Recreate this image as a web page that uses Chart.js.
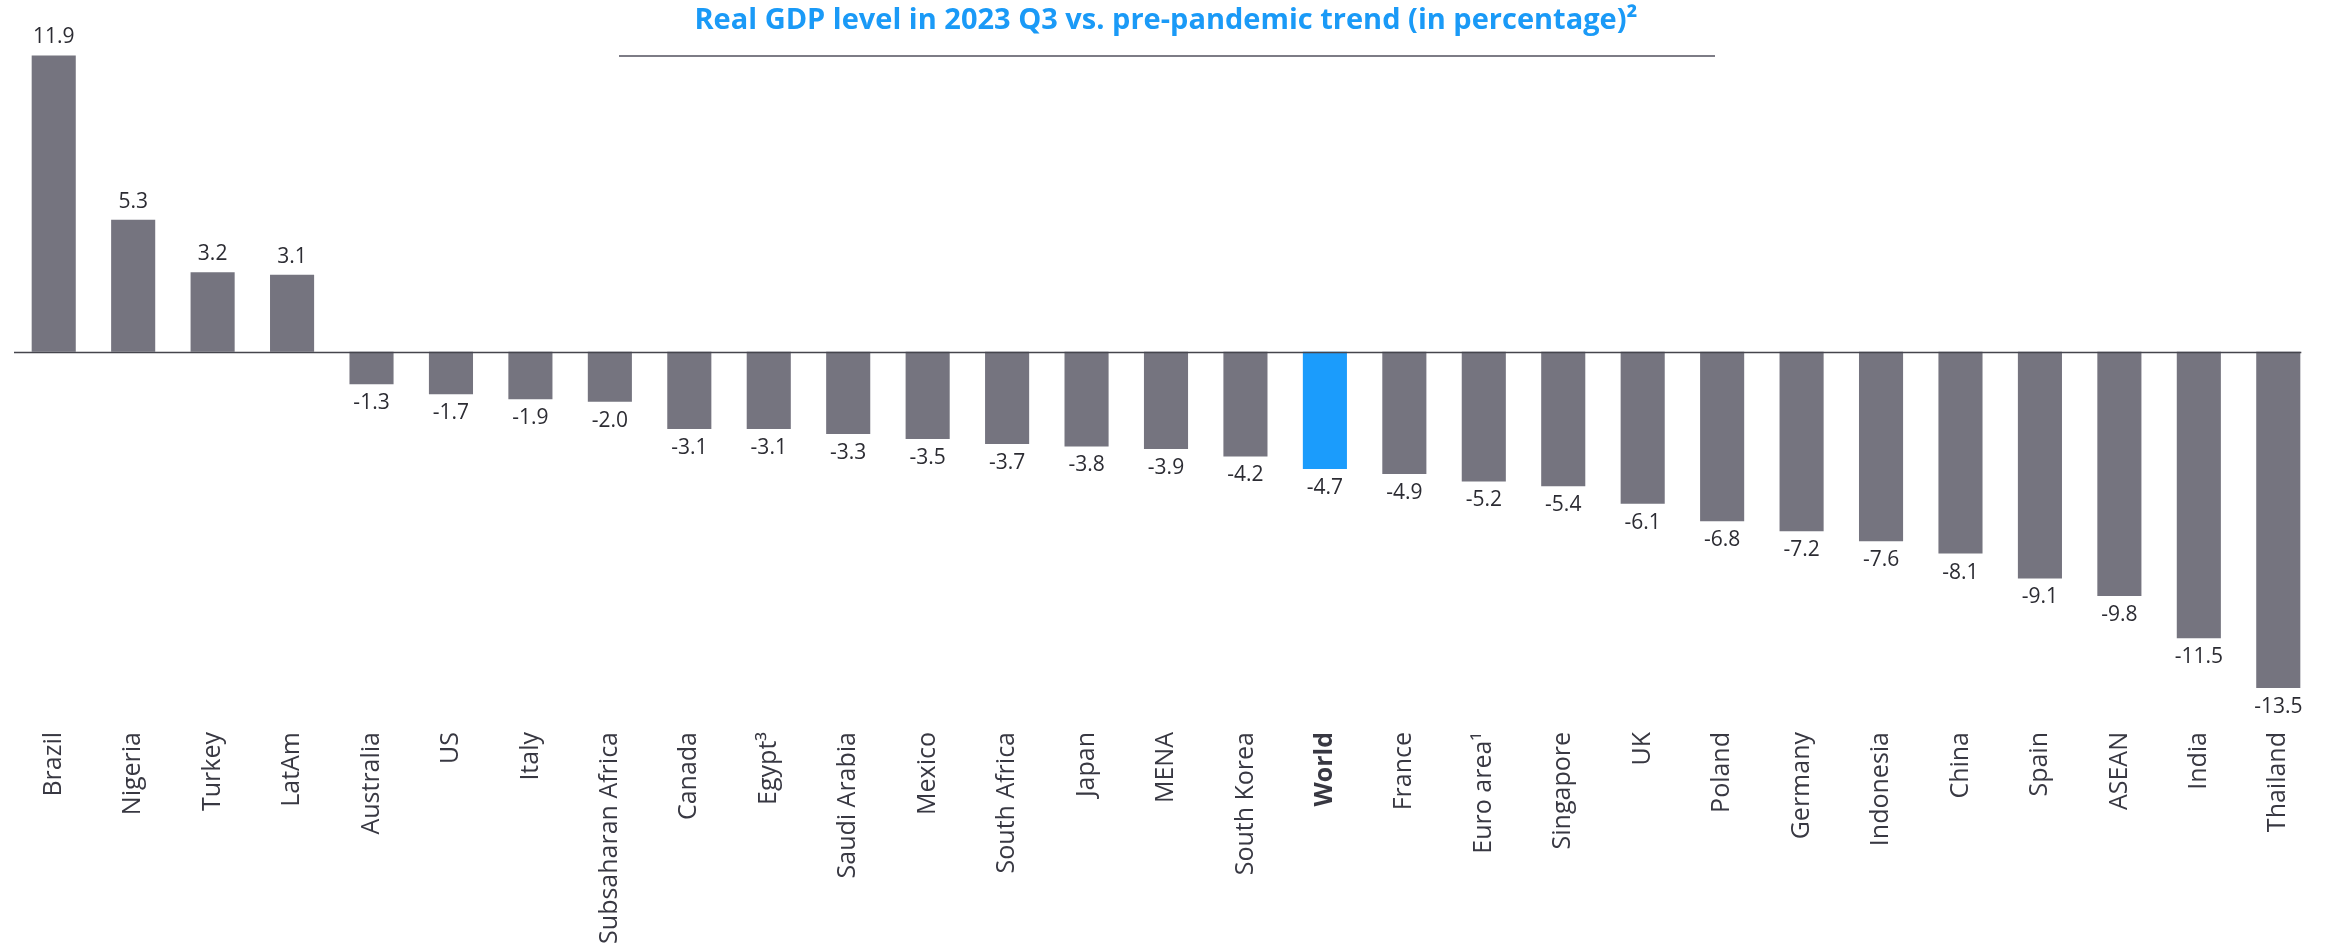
<!DOCTYPE html>
<html>
<head>
<meta charset="utf-8">
<script src="https://cdn.jsdelivr.net/npm/chart.js@4.4.0/dist/chart.umd.min.js"></script>
<style>
  html, body { margin: 0; padding: 0; background: #ffffff; }
  #wrap { width: 2328px; height: 947px; position: relative; }
</style>
</head>
<body>
<div id="wrap"><canvas id="c"></canvas></div>
<script>
const categories = ["Brazil", "Nigeria", "Turkey", "LatAm", "Australia", "US", "Italy", "Subsaharan Africa",
  "Canada", "Egypt³", "Saudi Arabia", "Mexico", "South Africa", "Japan", "MENA", "South Korea", "World",
  "France", "Euro area¹", "Singapore", "UK", "Poland", "Germany", "Indonesia", "China", "Spain", "ASEAN",
  "India", "Thailand"];
const gdpGap = [11.9, 5.3, 3.2, 3.1, -1.3, -1.7, -1.9, -2.0,
  -3.1, -3.1, -3.3, -3.5, -3.7, -3.8, -3.9, -4.2, -4.7,
  -4.9, -5.2, -5.4, -6.1, -6.8, -7.2, -7.6, -8.1, -9.1, -9.8,
  -11.5, -13.5];
const highlightCategory = "World";
const titleText = "Real GDP level in 2023 Q3 vs. pre-pandemic trend (in percentage)²";

const GRAY = "#75747f";
const BLUE = "#1b9cfc";
const TEXT = "#383842";

const valueLabels = {
  id: "valueLabels",
  afterDatasetsDraw(chart) {
    const ctx = chart.ctx;
    const meta = chart.getDatasetMeta(0);
    ctx.save();
    ctx.font = "21px 'Open Sans', sans-serif";
    ctx.fillStyle = "#2c2c33";
    ctx.textAlign = "center";
    ctx.textBaseline = "middle";
    meta.data.forEach((bar, i) => {
      const v = gdpGap[i];
      const y = v >= 0 ? bar.y - 18 : bar.y + 19;
      ctx.fillText(v.toFixed(1), bar.x, y);
    });
    ctx.restore();
  }
};

const zeroAndRule = {
  id: "zeroAndRule",
  afterDatasetsDraw(chart) {
    const ctx = chart.ctx;
    const y0 = chart.scales.y.getPixelForValue(0);
    const meta = chart.getDatasetMeta(0);
    const last = meta.data[meta.data.length - 1];
    const right = last.x + last.width / 2 + 1;
    ctx.save();
    ctx.strokeStyle = "#45454d";
    ctx.lineWidth = 1.5;
    ctx.beginPath();
    ctx.moveTo(chart.chartArea.left, Math.round(y0) + 0.5);
    ctx.lineTo(right, Math.round(y0) + 0.5);
    ctx.stroke();
    // rule under the title
    ctx.strokeStyle = "#7d7c86";
    ctx.lineWidth = 2;
    ctx.beginPath();
    ctx.moveTo(619, 56);
    ctx.lineTo(1715, 56);
    ctx.stroke();
    ctx.restore();
  }
};

new Chart(document.getElementById("c"), {
  type: "bar",
  data: {
    labels: categories,
    datasets: [{
      data: gdpGap,
      backgroundColor: categories.map(c => c === highlightCategory ? BLUE : GRAY),
      borderWidth: 0,
      barPercentage: 0.555,
      categoryPercentage: 1.0
    }]
  },
  options: {
    responsive: true,
    maintainAspectRatio: false,
    animation: false,
    layout: { padding: { left: 14, right: 10, top: 0, bottom: 0 } },
    plugins: {
      legend: { display: false },
      tooltip: { enabled: false },
      title: {
        display: true,
        text: titleText,
        color: "#1a9af7",
        font: { family: "'Open Sans', sans-serif", size: 29, weight: "bold", lineHeight: 1.2 },
        padding: { top: 3, bottom: 15.2 }
      }
    },
    scales: {
      x: {
        grid: { display: false, drawTicks: false },
        border: { display: false },
        ticks: {
          autoSkip: false,
          minRotation: 90,
          maxRotation: 90,
          padding: 19,
          color: TEXT,
          font: (ctx) => ({
            family: "'Open Sans', sans-serif",
            size: 25,
            weight: categories[ctx.index] === highlightCategory ? "bold" : "normal"
          })
        },
        afterFit(scale) { scale.height = 947 - 713; }
      },
      y: {
        display: false,
        min: -14.5,
        max: 12
      }
    }
  },
  plugins: [zeroAndRule, valueLabels]
});
</script>
</body>
</html>
